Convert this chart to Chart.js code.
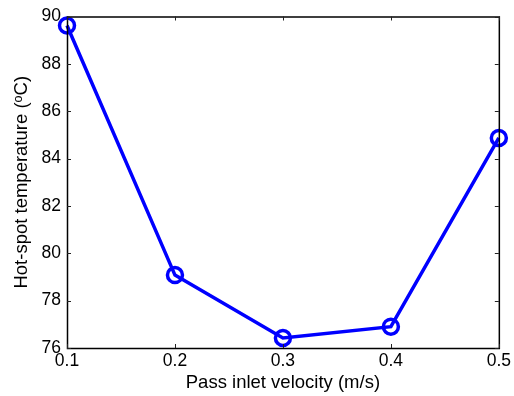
<!DOCTYPE html>
<html><head><meta charset="utf-8">
<script src="https://cdn.jsdelivr.net/npm/chart.js@4.4.1/dist/chart.umd.min.js"></script>
<style>html,body{margin:0;padding:0;background:#fff}#wrap{width:514px;height:396px}</style>
</head><body><div id="wrap"><canvas id="c" width="514" height="396"></canvas></div>
<script>
const velocities = [0.1, 0.2, 0.3, 0.4, 0.5];
const hotSpotTemps = [89.62, 79.08, 76.42, 76.9, 84.87];
const xTicks = [0.1, 0.2, 0.3, 0.4, 0.5];
const yTicks = [76, 78, 80, 82, 84, 86, 88, 90];

const boxPlugin = {
  id: 'box',
  afterDraw(chart) {
    const {ctx, chartArea: a, scales: {x, y}} = chart;
    ctx.save();
    ctx.strokeStyle = '#000';
    ctx.lineWidth = 1.5;
    ctx.beginPath();
    ctx.rect(a.left + 0.5, a.top + 0.5, a.right - a.left, a.bottom - a.top);
    ctx.stroke();
    ctx.lineWidth = 1;
    ctx.strokeStyle = '#222';
    const tl = 4;
    xTicks.forEach(v => {
      const px = Math.round(x.getPixelForValue(v)) + 0.5;
      ctx.beginPath(); ctx.moveTo(px, a.bottom); ctx.lineTo(px, a.bottom - tl); ctx.stroke();
      ctx.beginPath(); ctx.moveTo(px, a.top); ctx.lineTo(px, a.top + tl); ctx.stroke();
    });
    yTicks.forEach(v => {
      const py = Math.round(y.getPixelForValue(v)) + 0.5;
      ctx.beginPath(); ctx.moveTo(a.left, py); ctx.lineTo(a.left + tl, py); ctx.stroke();
      ctx.beginPath(); ctx.moveTo(a.right, py); ctx.lineTo(a.right - tl, py); ctx.stroke();
    });
    ctx.restore();
  }
};

new Chart(document.getElementById('c'), {
  type: 'scatter',
  data: {
    datasets: [{
      data: velocities.map((v, i) => ({x: v, y: hotSpotTemps[i]})),
      showLine: true,
      borderColor: '#0000ff',
      borderWidth: 3.5,
      pointStyle: 'circle',
      pointRadius: 7.5,
      pointBorderWidth: 3.5,
      pointBorderColor: '#0000ff',
      pointBackgroundColor: 'rgba(0,0,0,0)',
      clip: false
    }]
  },
  options: {
    responsive: false,
    animation: false,
    events: [],
    layout: {padding: {left: 0, right: 15, top: 11, bottom: 0}},
    plugins: {legend: {display: false}, tooltip: {enabled: false}},
    scales: {
      x: {
        type: 'linear', min: 0.1, max: 0.5,
        afterBuildTicks: s => { s.ticks = xTicks.map(v => ({value: v})); },
        afterFit: s => { s.height = 48; },
        grid: {display: false, drawTicks: false},
        border: {display: false},
        ticks: {color: '#000', font: {family: 'Liberation Sans, Arial', size: 17.5}, padding: 3, maxRotation: 0,
          callback: v => String(v)},
        title: {display: true, text: 'Pass inlet velocity (m/s)', color: '#000',
          font: {family: 'Liberation Sans, Arial', size: 18.5}, padding: {top: 0, bottom: 2}}
      },
      y: {
        type: 'linear', min: 76, max: 90,
        afterBuildTicks: s => { s.ticks = yTicks.map(v => ({value: v})); },
        afterFit: s => { s.width = 67; },
        grid: {display: false, drawTicks: false},
        border: {display: false},
        ticks: {color: '#000', font: {family: 'Liberation Sans, Arial', size: 17.5}, padding: 6},
        title: {display: true, text: 'Hot-spot temperature (\u1D52C)', color: '#000',
          font: {family: 'Liberation Sans, Arial', size: 18.5}, padding: {top: 11, bottom: 0}}
      }
    }
  },
  plugins: [boxPlugin]
});
</script>
</body></html>
